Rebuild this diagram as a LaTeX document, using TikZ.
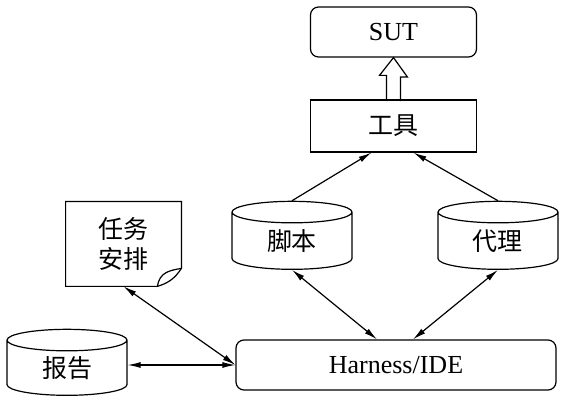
\documentclass[tikz,border=0pt]{standalone}
\usepackage{fontspec}
\setmainfont{Liberation Serif}
\newfontfamily\cjk{Noto Sans CJK SC}
\usetikzlibrary{arrows.meta,shapes.geometric}

\begin{document}
\begin{tikzpicture}
  [x=0.5pt,y=-0.5pt,>={Latex[length=6.5pt,width=3pt]},%全局:坐标按像素,箭头样式
   font=\fontsize{13}{15}\selectfont,
   box/.style={rectangle,draw,line width=.6pt,inner sep=0pt,minimum width=83pt,minimum height=25pt},%方框
   round box/.style={box,rounded corners=4pt},%圆角方框
   cjk text/.style={font=\cjk\fontsize{12.5}{15}\selectfont},
   store/.style={cylinder,shape border rotate=90,aspect=0.43,draw,line width=.6pt,inner sep=0pt,
     minimum width=60pt,minimum height=34pt,cjk text},%数据库圆柱
   link/.style={line width=.6pt}]

  \useasboundingbox (0,0) rectangle (564,401);

  % 上面两层
  \node [round box] (sut)  at (393.5,32)  {SUT};
  \node [box,minimum height=26pt,cjk text] (tool) at (393.5,126) {工具};

  % 中间的库和文档
  \node [store] (script) at (292,241) {脚本};
  \node [store] (agent)  at (498,241) {代理};
  \node [store,minimum height=33pt] (report) at (67,368) {报告};
  \node [inner sep=0pt,minimum width=57.5pt,minimum height=42pt,align=center,cjk text]
                  (plan) at (123.5,244) {任务\\安排};

  % 底部
  \node [round box,minimum width=160pt] (ide) at (396,365) {Harness/IDE};

  % 任务安排的折角边框
  \coordinate (fold a) at ([yshift=9pt]plan.south east);
  \coordinate (fold b) at ([xshift=-12pt]plan.south east);
  \draw [link] (plan.south west) -- (plan.north west) -- (plan.north east) -- (fold a)
    to [bend left=20] (fold b) -- cycle;
  \draw [link] (fold b) .. controls +(1pt,7pt) and +(-6pt,-1pt) .. (fold a);

  % 空心箭头 工具 -> SUT
  \draw [link] ([xshift=-3.5pt]tool.north) -- ++(0,-24) -- ++(-7,0) -- (sut.south)
    -- ++(14,19.5) -- ++(-7,0) -- ++(0,24);

  \draw [link,->]  (script.north) -- ([xshift=-11pt]tool.south);
  \draw [link,->]  (agent.north)  -- ([xshift=10pt]tool.south);
  \draw [link,<->] (script.south) -- ([xshift=-9.5pt]ide.north);
  \draw [link,<->] (agent.south)  -- ([xshift=8.5pt]ide.north);
  \draw [link,<->] (plan.south)   -- (ide.west);
  \draw [link,<->] (report.east |- ide.west) -- (ide.west);

\end{tikzpicture}
\end{document}
